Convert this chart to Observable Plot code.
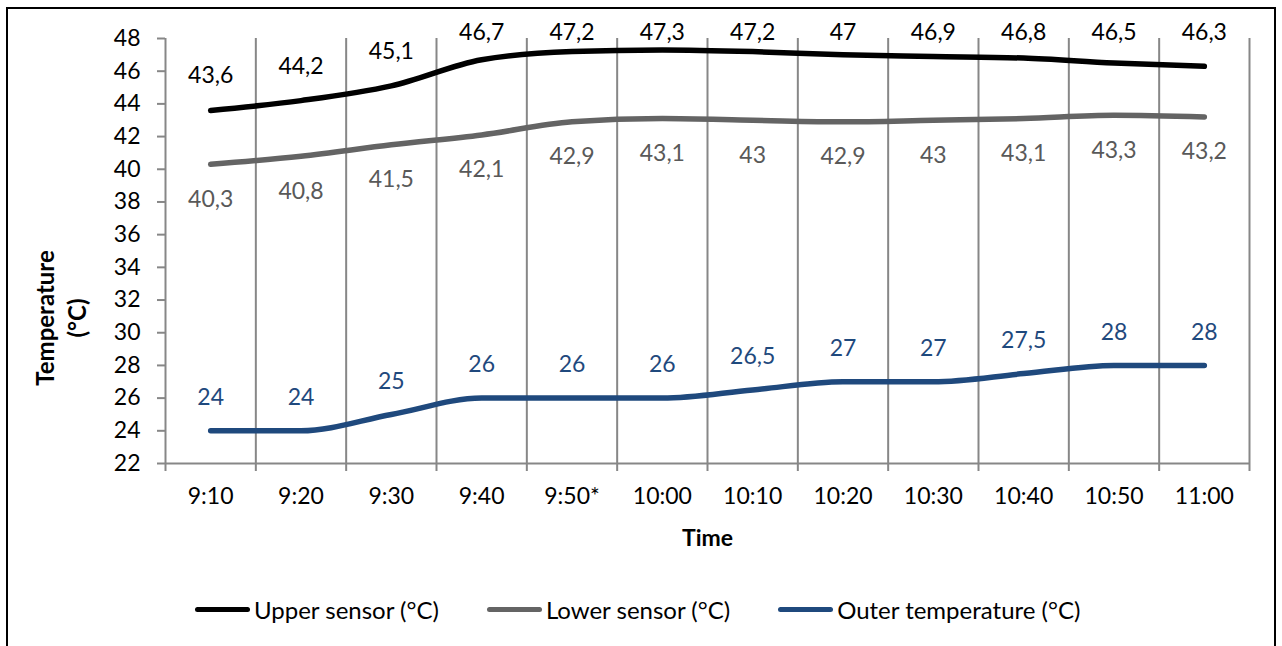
<!DOCTYPE html>
<html><head><meta charset="utf-8">
<script src="https://cdn.jsdelivr.net/npm/d3@7"></script>
<script src="https://cdn.jsdelivr.net/npm/@observablehq/plot@0.6"></script>
<style>
body{margin:0;background:#fff;font-family:Lato,sans-serif;width:1282px;height:646px;overflow:hidden;position:relative;}
#frame{position:absolute;left:6px;top:7px;width:1270px;height:700px;border:2px solid #000;box-sizing:border-box;}
#chart{position:absolute;left:0;top:0;}
#legend{position:absolute;left:195px;top:595px;display:flex;align-items:center;gap:48px;font-size:24px;color:#000;}
.item{display:flex;align-items:center;}
.sw{display:inline-block;width:55px;height:5px;border-radius:3px;margin-right:4px;}
</style></head><body>
<div id="frame"></div><div id="chart"></div><div id="legend"></div>
<script>
const times = ["9:10","9:20","9:30","9:40","9:50*","10:00","10:10","10:20","10:30","10:40","10:50","11:00"];
const upper = [43.6,44.2,45.1,46.7,47.2,47.3,47.2,47,46.9,46.8,46.5,46.3];
const lower = [40.3,40.8,41.5,42.1,42.9,43.1,43,42.9,43,43.1,43.3,43.2];
const outer = [24,24,25,26,26,26,26.5,27,27,27.5,28,28];
const seriesNames = ["Upper sensor (°C)","Lower sensor (°C)","Outer temperature (°C)"];
const seriesColors = ["#000000","#646464","#1F497D"];
const labelColors = ["#000000","#595959","#1F497D"];
const yTicks = d3.range(22, 49, 2);

const fmt = v => String(v).replace(".", ",");
const mk = (vals, s) => vals.map((v, i) => ({series: s, x: i + 0.5, value: v, label: fmt(v)}));
const rowsU = mk(upper, seriesNames[0]);
const rowsL = mk(lower, seriesNames[1]);
const rowsO = mk(outer, seriesNames[2]);
const grid = "#878787";
const fs = 23;

const lineOpts = (c) => ({x: "x", y: "value", stroke: c, strokeWidth: 5.5, curve: "monotone-x", strokeLinecap: "round", strokeLinejoin: "round"});

const chart = Plot.plot({
  width: 1282, height: 560,
  marginLeft: 165, marginRight: 33, marginTop: 38, marginBottom: 97,
  style: {fontFamily: "Lato, sans-serif", fontSize: fs + "px", background: "transparent", color: "#000"},
  x: {type: "linear", domain: [0, 12], axis: null},
  y: {domain: [22, 48], axis: null},
  marks: [
    Plot.ruleX(d3.range(1, 13), {stroke: grid, strokeWidth: 2}),
    Plot.ruleX([0], {stroke: grid, strokeWidth: 2}),
    Plot.ruleY([22], {stroke: grid, strokeWidth: 2}),
    Plot.axisX({ticks: d3.range(0, 13), tickSize: 8, tickFormat: () => "", stroke: grid, strokeWidth: 2, label: null}),
    Plot.axisX({ticks: d3.range(0.5, 12, 1), tickSize: 0, tickPadding: 24, tickFormat: d => times[Math.floor(d)], fill: "#000", fontSize: fs, label: null}),
    Plot.axisY({ticks: yTicks, tickSize: 8, tickPadding: 17, stroke: grid, strokeWidth: 2, fill: "#000", fontSize: fs, label: null}),
    Plot.text(["Time"], {frameAnchor: "bottom", lineAnchor: "middle", dy: 75, fontWeight: "bold", fontSize: fs, fill: "#000"}),
    Plot.text(["Temperature\n(°C)"], {frameAnchor: "left", textAnchor: "middle", lineAnchor: "middle", dx: -106, dy: 67, rotate: -90, fontWeight: "bold", fontSize: 24, fill: "#000", lineHeight: 1.35}),
    Plot.line(rowsL, lineOpts(seriesColors[1])),
    Plot.line(rowsO, lineOpts(seriesColors[2])),
    Plot.line(rowsU, lineOpts(seriesColors[0])),
    Plot.text(rowsU, {x: "x", y: d => Math.min(d.value + 2.1, 48.37), text: "label", fill: labelColors[0], fontSize: fs}),
    Plot.text(rowsL, {x: "x", y: "value", dy: 35, text: "label", fill: labelColors[1], fontSize: fs}),
    Plot.text(rowsO, {x: "x", y: "value", dy: -33, text: "label", fill: labelColors[2], fontSize: fs})
  ]
});
document.getElementById("chart").appendChild(chart);

const legend = document.getElementById("legend");
seriesNames.forEach((n, i) => {
  const it = document.createElement("div");
  it.className = "item";
  const sw = document.createElement("span");
  sw.className = "sw";
  sw.style.background = seriesColors[i];
  const t = document.createElement("span");
  t.textContent = n;
  it.appendChild(sw); it.appendChild(t);
  legend.appendChild(it);
});
</script>
</body></html>
